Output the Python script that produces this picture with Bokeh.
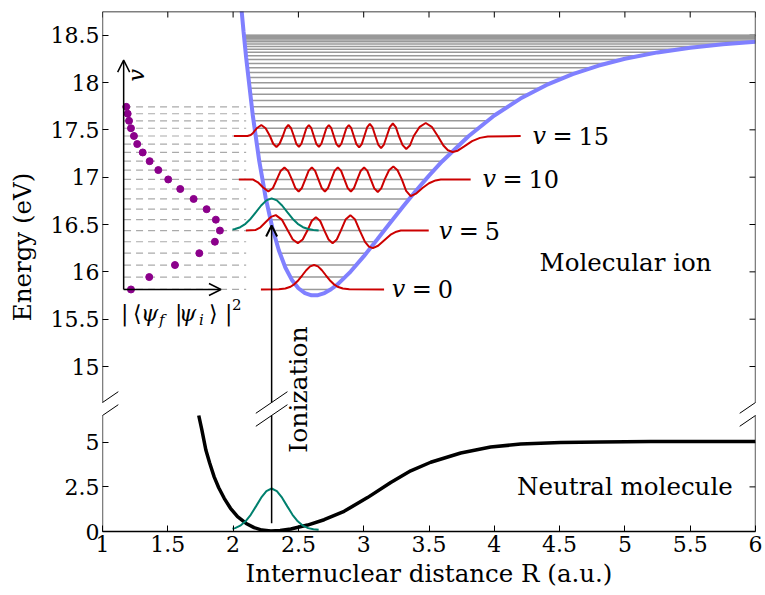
from math import pi
from bokeh.plotting import figure
from bokeh.models import (Range1d, LinearAxis, FixedTicker, CustomJSTickFormatter,
                          Arrow, OpenHead, ColumnDataSource)
from bokeh.core.properties import value
from bokeh.embed import file_html
from bokeh.resources import INLINE

FONT = "DejaVu Serif"
FS = "22px"      # tick labels
FL = "24.5px"    # text labels

# ---------------- data ----------------
x_ticks = [1, 1.5, 2, 2.5, 3, 3.5, 4, 4.5, 5, 5.5, 6]
x_labels = ["1", "1.5", "2", "2.5", "3", "3.5", "4", "4.5", "5", "5.5", "6"]
ion_ticks = [15, 15.5, 16, 16.5, 17, 17.5, 18, 18.5]
ion_labels = ["15", "15.5", "16", "16.5", "17", "17.5", "18", "18.5"]
neu_ticks = [0, 2.5, 5]
neu_labels = ["0", "2.5", "5"]

# molecular-ion potential curve (eV)
ion_r = [2.06, 2.08, 2.10, 2.15, 2.20, 2.25, 2.30, 2.35, 2.40, 2.45, 2.50, 2.55, 2.60,
         2.65, 2.70, 2.75, 2.80, 2.90, 3.00, 3.10, 3.20, 3.30, 3.40, 3.50, 3.60, 3.80,
         4.00, 4.20, 4.40, 4.60, 4.80, 5.00, 5.25, 5.50, 5.75, 6.00]
ion_e = [18.836, 18.539, 18.262, 17.661, 17.172, 16.779, 16.468, 16.228, 16.046, 15.915,
         15.827, 15.775, 15.752, 15.754, 15.776, 15.816, 15.868, 16.003, 16.163, 16.336,
         16.513, 16.688, 16.857, 17.016, 17.166, 17.430, 17.651, 17.830, 17.974, 18.089,
         18.179, 18.251, 18.318, 18.368, 18.404, 18.430]

# vibrational levels of the ion and their classical turning points
levels = [15.814, 15.945, 16.072, 16.197, 16.318, 16.436, 16.551, 16.662, 16.770, 16.875,
          16.976, 17.075, 17.169, 17.261, 17.350, 17.435, 17.517, 17.595, 17.670, 17.743,
          17.811, 17.877, 17.939, 17.998, 18.054, 18.106, 18.155, 18.201, 18.244, 18.283,
          18.319, 18.352, 18.381, 18.407, 18.430, 18.450, 18.466, 18.479, 18.489, 18.496, 18.499]
turn_left = [2.510, 2.437, 2.392, 2.357, 2.330, 2.306, 2.285, 2.267, 2.251, 2.237,
             2.224, 2.211, 2.200, 2.190, 2.181, 2.172, 2.164, 2.156, 2.149, 2.143,
             2.137, 2.131, 2.126, 2.121, 2.116, 2.112, 2.108, 2.105, 2.101, 2.098,
             2.096, 2.093, 2.091, 2.089, 2.088, 2.086, 2.085, 2.084, 2.084, 2.083, 2.083]
turn_right = [2.748, 2.860, 2.945, 3.020, 3.090, 3.157, 3.222, 3.285, 3.348, 3.411,
              3.474, 3.538, 3.602, 3.668, 3.735, 3.804, 3.874, 3.945, 4.020, 4.097,
              4.176, 4.260, 4.347, 4.437, 4.534, 4.634, 4.741, 4.856, 4.979, 5.110,
              5.253, 5.411, 5.582, 5.779, 6.000, 6.000, 6.000, 6.000, 6.000, 6.000, 6.000]

# Franck-Condon factors |<psi_f|psi_i>|^2 for v = 0..19 (relative)
fc = [0.076, 0.266, 0.533, 0.786, 0.948, 1.000, 0.958, 0.862, 0.727, 0.588,
      0.463, 0.360, 0.270, 0.198, 0.141, 0.107, 0.076, 0.056, 0.042, 0.027]

# neutral-molecule potential curve (eV)
neu_r = [1.737, 1.760, 1.792, 1.820, 1.855, 1.890, 1.932, 1.980, 2.034, 2.100, 2.161, 2.220,
         2.289, 2.360, 2.442, 2.570, 2.697, 2.850, 3.029, 3.207, 3.360, 3.513, 3.743, 3.972,
         4.202, 4.508, 4.814, 5.197, 5.579, 6.000]
neu_e = [6.50, 5.72, 4.55, 3.85, 3.06, 2.45, 1.86, 1.30, 0.83, 0.45, 0.22, 0.08,
         0.03, 0.06, 0.14, 0.36, 0.66, 1.13, 1.90, 2.75, 3.40, 3.88, 4.40, 4.73,
         4.90, 4.99, 5.02, 5.04, 5.05, 5.05]

# initial (neutral ground state) wavefunction, relative
psi_i_r = [1.995, 2.015, 2.055, 2.095, 2.135, 2.175, 2.215, 2.255, 2.295, 2.335,
           2.375, 2.415, 2.455, 2.495, 2.535, 2.575, 2.615, 2.655]
psi_i = [0.030, 0.047, 0.105, 0.210, 0.368, 0.570, 0.779, 0.939, 1.000, 0.939,
         0.779, 0.570, 0.368, 0.210, 0.105, 0.047, 0.018, 0.006]
R_ION = 2.295          # vertical ionization at the neutral equilibrium distance
E_ARROW_TIP = 16.49
E_ARROW_START = 0.46

# ion vibrational wavefunctions (offset in eV from their level)
v0_r = [2.213, 2.350, 2.400, 2.440, 2.470, 2.500, 2.530, 2.560, 2.590, 2.620,
        2.650, 2.680, 2.710, 2.740, 2.770, 2.800, 2.840, 2.890, 3.156]
v0_psi = [0.000, 0.002, 0.010, 0.029, 0.057, 0.098, 0.150, 0.203, 0.244, 0.259,
          0.244, 0.203, 0.150, 0.098, 0.057, 0.029, 0.010, 0.002, 0.000]
v5_r = [2.098, 2.170, 2.210, 2.250, 2.290, 2.327, 2.373,
        2.419, 2.457, 2.496, 2.533,
        2.569, 2.602, 2.634, 2.667,
        2.699, 2.731, 2.762, 2.794,
        2.825, 2.861, 2.898, 2.934,
        2.970, 3.010, 3.040, 3.070, 3.110, 3.160, 3.210, 3.250, 3.284, 3.498]
v5_psi = [0.000, 0.005, 0.035, 0.090, 0.145, 0.163, 0.116,
          0.000, -0.094, -0.133, -0.094,
          0.000, 0.101, 0.142, 0.101,
          0.000, -0.094, -0.133, -0.094,
          0.000, 0.116, 0.163, 0.116,
          0.000, -0.120, -0.170, -0.186, -0.160, -0.100, -0.040, -0.012, 0.000, 0.000]
v10_r = [2.044, 2.150, 2.190, 2.230, 2.270, 2.305,
         2.335, 2.364, 2.393, 2.421,
         2.450, 2.476, 2.502, 2.527,
         2.553, 2.578, 2.603, 2.628,
         2.653, 2.678, 2.703, 2.727,
         2.752, 2.777, 2.802, 2.827,
         2.852, 2.877, 2.902, 2.926,
         2.951, 2.977, 3.003, 3.028,
         3.054, 3.081, 3.108, 3.134,
         3.161, 3.194, 3.227, 3.259,
         3.292, 3.325, 3.360, 3.400, 3.450, 3.500, 3.550, 3.590, 3.819]
v10_psi = [0.000, 0.000, -0.030, -0.085, -0.127, -0.090,
           0.000, 0.090, 0.127, 0.090,
           0.000, -0.090, -0.127, -0.090,
           0.000, 0.090, 0.127, 0.090,
           0.000, -0.090, -0.127, -0.090,
           0.000, 0.090, 0.127, 0.090,
           0.000, -0.090, -0.127, -0.090,
           0.000, 0.090, 0.127, 0.090,
           0.000, -0.094, -0.132, -0.094,
           0.000, 0.097, 0.137, 0.097,
           0.000, -0.120, -0.176, -0.150, -0.090, -0.040, -0.010, 0.000, 0.000]
v15_r = [2.006, 2.110, 2.135,
         2.151, 2.184, 2.216, 2.249,
         2.282, 2.307, 2.332, 2.356,
         2.381, 2.402, 2.423, 2.444,
         2.465, 2.484, 2.504, 2.523,
         2.542, 2.561, 2.580, 2.599,
         2.618, 2.637, 2.657, 2.676,
         2.695, 2.714, 2.733, 2.752,
         2.771, 2.790, 2.810, 2.829,
         2.848, 2.867, 2.886, 2.905,
         2.924, 2.944, 2.965, 2.985,
         3.005, 3.026, 3.047, 3.068,
         3.089, 3.111, 3.133, 3.155,
         3.177, 3.200, 3.223, 3.246,
         3.269, 3.298, 3.326, 3.355,
         3.383, 3.429, 3.475, 3.521,
         3.567, 3.610, 3.645, 3.680, 3.720, 3.770, 3.830, 3.890, 3.950, 4.202]
v15_psi = [0.000, 0.000, 0.010,
           0.030, 0.085, 0.116, 0.082,
           0.000, -0.082, -0.116, -0.082,
           0.000, 0.082, 0.116, 0.082,
           0.000, -0.082, -0.116, -0.082,
           0.000, 0.082, 0.116, 0.082,
           0.000, -0.082, -0.116, -0.082,
           0.000, 0.082, 0.116, 0.082,
           0.000, -0.082, -0.116, -0.082,
           0.000, 0.082, 0.116, 0.082,
           0.000, -0.086, -0.121, -0.086,
           0.000, 0.090, 0.127, 0.090,
           0.000, -0.090, -0.127, -0.090,
           0.000, 0.094, 0.132, 0.094,
           0.000, -0.097, -0.137, -0.097,
           0.000, 0.097, 0.137, 0.097,
           0.000, -0.100, -0.150, -0.169, -0.155, -0.110, -0.055, -0.020, -0.005, 0.000]
wave_v = [0, 5, 10, 15]
wave_label_r = [3.215, 3.575, 3.910, 4.293]

# ---------------- layout constants ----------------
UP_TOP, UP_BOT = 18.75, 14.62      # visible energy window of the ion panel
LO_TOP = 6.5                       # visible energy window of the neutral panel (0..LO_TOP)
FRAME_W, FRAME_H = 653, 520
UP_PX, GAP_PX = 391, 13
LO_PX = FRAME_H - UP_PX - GAP_PX
px_up = UP_PX / (UP_TOP - UP_BOT)
px_x = FRAME_W / 5.0
Y0, Y1 = UP_TOP - FRAME_H / px_up, UP_TOP
LO_END = LO_TOP * FRAME_H / LO_PX


def lo2up(e):
    return Y0 + e * (Y1 - Y0) / LO_END


LO_EDGE = lo2up(LO_TOP)

RED = "#cc0000"
TEAL = "#00806e"
BLUE = "#8080ff"
PURPLE = "#8b008b"
TICK = 6  # px, inward ticks

p = figure(frame_width=FRAME_W, frame_height=FRAME_H,
           x_range=Range1d(1, 6), y_range=Range1d(Y0, Y1),
           x_axis_location=None, y_axis_location=None,
           min_border_left=102, min_border_top=11, min_border_right=10, min_border_bottom=30,
           output_backend="svg", toolbar_location=None)
p.extra_y_ranges = {"lo": Range1d(0, LO_END)}
p.outline_line_color = None
p.grid.grid_line_color = None
p.background_fill_color = "white"
p.border_fill_color = "white"

JS = """
for (let i = 0; i < vals.length; i++) {
  if (Math.abs(vals[i] - tick) < 1e-6) { return labels[i]; }
}
return '';
"""
y_tick_vals = [lo2up(v) for v in neu_ticks] + ion_ticks
y_tick_labels = neu_labels + ion_labels


def style_axis(ax):
    ax.major_tick_in = TICK
    ax.major_tick_out = 0
    ax.minor_tick_line_color = None
    ax.major_tick_line_color = "black"
    ax.major_tick_line_width = 1
    ax.axis_line_width = 1.3
    ax.major_label_text_font = FONT
    ax.major_label_text_color = "black"
    ax.major_label_text_font_size = FS
    ax.axis_label_text_font = FONT
    ax.axis_label_text_font_size = FL
    ax.axis_label_text_font_style = "normal"
    ax.axis_label_text_color = "black"


bottom = LinearAxis(ticker=FixedTicker(ticks=x_ticks),
                    formatter=CustomJSTickFormatter(args=dict(vals=x_ticks, labels=x_labels), code=JS))
style_axis(bottom)
bottom.major_label_standoff = 4
bottom.axis_label = "Internuclear distance R (a.u.)"
bottom.axis_label_standoff = 4
p.add_layout(bottom, "below")

left = LinearAxis(ticker=FixedTicker(ticks=y_tick_vals),
                  formatter=CustomJSTickFormatter(args=dict(vals=y_tick_vals, labels=y_tick_labels), code=JS))
style_axis(left)
left.axis_line_color = None
left.major_label_standoff = 3
# two em-spaces lift the centred title to the height it has in the reference
left.axis_label = "\u2003\u2003Energy (eV)"
left.axis_label_standoff = 11
p.add_layout(left, "left")

# frame spines (side spines broken at the gap)
p.add_layout(Arrow(end=None, x_start=1, y_start=Y1, x_end=6, y_end=Y1, line_color="black", line_width=1.3))
for xs in (1, 6):
    for (ya, yb) in ((Y0, LO_EDGE), (UP_BOT, Y1)):
        p.add_layout(Arrow(end=None, x_start=xs, y_start=ya, x_end=xs, y_end=yb,
                           line_color="black", line_width=1.3))

# inward ticks on the top and right sides
p.segment(x0=x_ticks, y0=[Y1] * len(x_ticks), x1=x_ticks, y1=[Y1 - TICK / px_up] * len(x_ticks),
          line_color="black", line_width=1)
p.segment(x0=[6 - TICK / px_x] * len(ion_ticks), y0=ion_ticks, x1=[6] * len(ion_ticks), y1=ion_ticks,
          line_color="black", line_width=1)
p.segment(x0=[6 - TICK / px_x] * len(neu_ticks), y0=neu_ticks, x1=[6] * len(neu_ticks), y1=neu_ticks,
          y_range_name="lo", line_color="black", line_width=1)

# ---------------- ion panel ----------------
n_dash = len(fc)
DASH_X0, DASH_X1 = 1.165, 2.10
p.segment(x0=[DASH_X0] * n_dash, y0=levels[:n_dash], x1=[DASH_X1] * n_dash, y1=levels[:n_dash],
          line_color="#aaaaaa", line_width=1.2, line_dash="7 5")
p.segment(x0=turn_left, y0=levels, x1=turn_right, y1=levels, line_color="#999999", line_width=1.5)
p.line(ion_r, ion_e, line_color=BLUE, line_width=4)

waves = [(v0_r, v0_psi), (v5_r, v5_psi), (v10_r, v10_psi), (v15_r, v15_psi)]
for (wr, wp), v in zip(waves, wave_v):
    p.line(wr, [levels[v] + d for d in wp], line_color=RED, line_width=2)

# projected initial wavefunction at the v=5 level
p.line(psi_i_r, [levels[5] + 0.34 * a for a in psi_i], line_color=TEAL, line_width=2)

# labels v = n
lab_y = [levels[v] for v in wave_v]
p.text(x=wave_label_r, y=lab_y, text=["v"] * 4, text_font=value(FONT), text_font_style="italic",
       text_font_size="24px", text_baseline="middle", text_align="left")
p.text(x=wave_label_r, y=lab_y, text=["="] * 4, text_font=value(FONT), x_offset=20,
       text_font_size="24px", text_baseline="middle", text_align="left")
p.text(x=wave_label_r, y=lab_y, text=[str(v) for v in wave_v], text_font=value(FONT), x_offset=46,
       text_font_size="24px", text_baseline="middle", text_align="left")

# inset: Franck-Condon factors
INSET_X0, INSET_W, INSET_XEND, INSET_YEND = 1.162, 0.737, 1.907, 18.236
p.scatter(x=[INSET_X0 + INSET_W * f for f in fc], y=levels[:n_dash], size=7,
          fill_color=PURPLE, line_color=PURPLE)
p.add_layout(Arrow(end=OpenHead(size=12, line_width=1.5, line_color="black"),
                   x_start=INSET_X0, y_start=levels[0], x_end=INSET_X0, y_end=INSET_YEND,
                   line_width=1.5, line_color="black"))
p.add_layout(Arrow(end=OpenHead(size=12, line_width=1.5, line_color="black"),
                   x_start=INSET_X0, y_start=levels[0], x_end=INSET_XEND, y_end=levels[0],
                   line_width=1.5, line_color="black"))
p.text(x=[1.257], y=[18.077], text=["v"], angle=pi / 2, text_font=value(FONT),
       text_font_style="italic", text_font_size=FS, text_align="center", text_baseline="middle")

fc_src = ColumnDataSource(dict(
    x=[1.1415] * 10, y=[15.563] * 10,
    t=["|", "\u27e8", "\u03c8", "f", "|", "\u03c8", "i", "\u27e9", "|", "2"],
    dx=[0, 12, 20, 38, 54, 58, 78, 88, 104, 111],
    dy=[0, 0, 0, 7, 0, 0, 7, 0, 0, -9],
    st=["normal", "normal", "italic", "italic", "normal", "italic", "italic", "normal", "normal", "normal"],
    fs=["22px", "22px", "22px", "15px", "22px", "22px", "15px", "22px", "22px", "15px"],
))
p.text(x="x", y="y", text="t", x_offset="dx", y_offset="dy", text_font_style="st",
       text_font_size="fs", text_font=value(FONT), text_baseline="middle", text_align="left",
       source=fc_src)

p.text(x=[5.005], y=[16.10], text=["Molecular ion"], text_font=value(FONT), text_font_size=FL,
       text_align="center", text_baseline="middle")

# ---------------- neutral panel ----------------
p.line(neu_r, neu_e, y_range_name="lo", line_color="black", line_width=3.5)
p.line(psi_i_r, [0.08 + 2.33 * a for a in psi_i], y_range_name="lo", line_color=TEAL, line_width=2)
p.text(x=[5.0], y=[2.5], y_range_name="lo", text=["Neutral molecule"], text_font=value(FONT),
       text_font_size=FL, text_align="center", text_baseline="middle")

# ionization arrow (broken across the gap)
p.segment(x0=[R_ION], y0=[E_ARROW_START], x1=[R_ION], y1=[LO_TOP], y_range_name="lo",
          line_color="black", line_width=1.5)
p.add_layout(Arrow(end=OpenHead(size=11, line_width=2, line_color="black"),
                   x_start=R_ION, y_start=UP_BOT, x_end=R_ION, y_end=E_ARROW_TIP,
                   line_width=1.5, line_color="black"))
p.text(x=[2.503], y=[Y1 - (389 - 11) / px_up], text=["Ionization"], angle=pi / 2,
       text_font=value(FONT), text_font_size="25px", text_align="center", text_baseline="middle")

# break marks
dxb, dyb = 15.8 / px_x, 10.8 / px_up
for xb in (1, R_ION, 6):
    for yb in (UP_BOT, LO_EDGE):
        p.add_layout(Arrow(end=None, x_start=xb - dxb, y_start=yb - dyb, x_end=xb + dxb, y_end=yb + dyb,
                           line_color="black", line_width=1))

open("out.html", "w").write(file_html(p, INLINE))
